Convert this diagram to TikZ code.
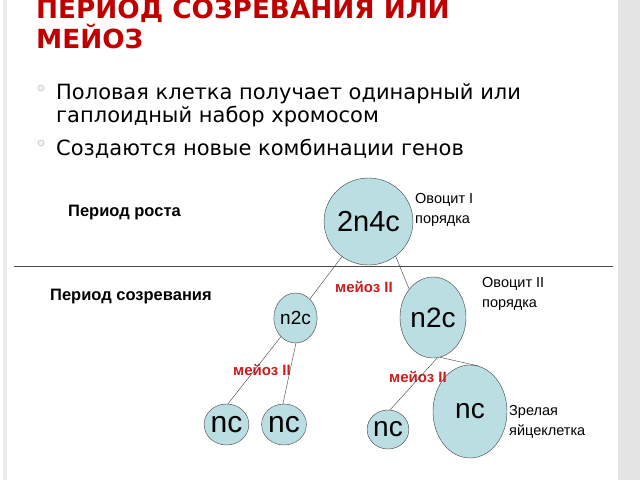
\documentclass[tikz,border=0pt]{standalone}
\usepackage{fontspec}
\setmainfont{DejaVu Sans}
\newfontfamily\arialfont{Liberation Sans}
\usetikzlibrary{shapes.geometric,positioning}

\definecolor{slidered}{RGB}{192,0,0}
\definecolor{meiosred}{RGB}{200,30,30}
\definecolor{cellblue}{RGB}{186,222,226}
\definecolor{sidegray}{RGB}{228,228,228}

\begin{document}
\begin{tikzpicture}[
  x=1pt,y=-1pt,
  cell/.style={draw=black!75,ellipse,fill=cellblue,inner sep=0pt,font=\arialfont},
  period/.style={anchor=base west,inner sep=0pt,font=\arialfont\bfseries\fontsize{16.5}{18}\selectfont},
  meios/.style={anchor=base,inner sep=0pt,text=meiosred,font=\arialfont\bfseries\fontsize{15}{17}\selectfont},
  stage/.style={anchor=base west,inner sep=0pt,align=left,font=\arialfont\fontsize{14.5}{20}\selectfont},
  bulletdot/.style={circle,draw=black!30,fill=black!5,inner sep=0pt,minimum size=6pt},
  bullettext/.style={anchor=base west,inner sep=0pt,font=\fontsize{21}{23}\selectfont},
  titletext/.style={anchor=base west,inner sep=0pt,text=slidered,font=\bfseries\fontsize{26.3}{30}\selectfont}
]
\useasboundingbox (0,0) rectangle (640,480);
\fill[white] (0,0) rectangle (640,480);
\fill[sidegray] (618,0) rectangle (640,480);
\fill[black!8] (3,0) rectangle (7,480);

% title and bullets
\node[titletext] (title1) at (36,18) {ПЕРИОД СОЗРЕВАНИЯ ИЛИ};
\node[titletext] (title2) at (36,48) {МЕЙОЗ};

\node[bulletdot] (b1) at (41,88) {};
\node[bullettext] (t1) at (56,99) {Половая клетка получает одинарный или};
\node[bullettext] (t1b) at (56,122) {гаплоидный набор хромосом};
\node[bulletdot] (b2) at (41,143) {};
\node[bullettext] (t2) at (56,155) {Создаются новые комбинации генов};

% periods
\node[period] (growth) at (68,216) {Период роста};
\node[period] (ripening) at (50,300) {Период созревания};
\draw[black!70,line width=1pt] (14,266) -- (613,266);

% cells
\node[cell,minimum width=71pt,minimum height=87pt,font=\arialfont\fontsize{29}{29}\selectfont] (oo1) at (368.5,221.5) {2n4c};
\node[cell,minimum width=40pt,minimum height=50pt,font=\arialfont\fontsize{19}{19}\selectfont] (oo2a) at (295.5,318) {n2c};
\node[cell,minimum width=66pt,minimum height=81pt,font=\arialfont\fontsize{28}{28}\selectfont] (oo2b) at (433,317.5) {n2c};
\node[cell,minimum width=33pt,minimum height=41pt,font=\arialfont\fontsize{30}{30}\selectfont] (nc1) at (226.5,424.5) {nc};
\node[cell,minimum width=34pt,minimum height=41pt,font=\arialfont\fontsize{30}{30}\selectfont] (nc2) at (284,424.5) {nc};
\node[cell,minimum width=34pt,minimum height=39pt,font=\arialfont\fontsize{28}{28}\selectfont] (nc3) at (388,429.5) {nc};
\node[cell,minimum width=74pt,minimum height=93pt,font=\arialfont\fontsize{28}{28}\selectfont] (egg) at (470,411.5) {nc};

% labels
\node[stage] (l1) at (415,223) {Овоцит I\\порядка};
\node[stage] (l2) at (482,307) {Овоцит II\\порядка};
\node[stage] (l3) at (509,435) {Зрелая\\яйцеклетка};

\node[meios] (m1) at (364,292) {мейоз II};
\node[meios] (m2) at (262,375) {мейоз II};
\node[meios] (m3) at (418,382) {мейоз II};

\path[black!75] (oo1) edge (oo2a)
  (oo1.-52) edge (oo2b.130)
  (oo2a.-128) edge (nc1.86)
  (oo2a.-89) edge (nc2.93)
  (oo2b.-84) edge (nc3.84)
  (oo2b.-80) edge (egg.80);

\end{tikzpicture}
\end{document}
